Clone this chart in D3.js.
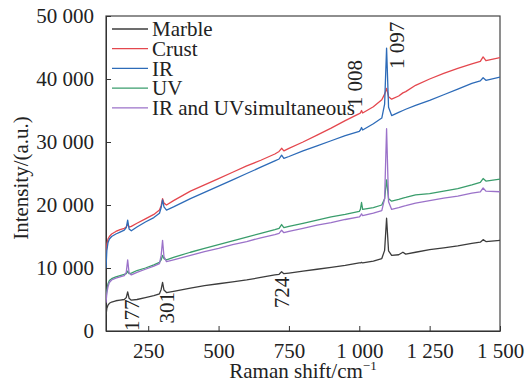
<!DOCTYPE html>
<html>
<head>
<meta charset="utf-8">
<script src="https://cdn.jsdelivr.net/npm/d3@7"></script>
<style>
html,body{margin:0;padding:0;background:#fff;}
svg{display:block;}
text{font-family:"Liberation Serif","Times New Roman",serif;fill:#222;}
</style>
</head>
<body>
<svg id="chart" width="526" height="383"></svg>
<script>
// ---- data ----
const shift = [100,103,107,112,120,135,150,165,172,177,182,190,210,240,270,290,296,301,306,315,340,400,450,500,550,600,650,700,715,724,732,750,800,850,900,950,1000,1004,1008,1012,1050,1080,1090,1097,1104,1115,1140,1155,1165,1200,1250,1300,1350,1400,1430,1440,1450,1500];

const marble = [2500,3600,4100,4400,4600,4800,4900,5000,5300,6200,5200,4900,5000,5300,5600,5900,6600,7700,6500,6100,6300,6800,7200,7500,7800,8100,8500,8900,9000,9400,9100,9200,9500,9800,10100,10400,10800,10800,10900,10800,11100,11500,12800,17900,12700,12000,12100,12500,12200,12500,12900,13200,13500,13900,14100,14500,14200,14400];
const crust  = [12000,13800,14600,15000,15400,15800,16100,16300,16500,17000,16500,16600,17100,17800,18500,19200,19900,21000,20300,20000,20700,22200,23200,24200,25200,26200,27100,28100,28500,29000,28600,29000,30000,31100,32200,33400,34500,34600,35000,34600,35600,36700,37600,38500,37200,36800,37300,37800,38000,39000,40000,40900,41700,42400,42800,43500,42900,43400];
const ir     = [10000,12800,14000,14600,15000,15400,15700,16000,16400,17600,16200,15900,16500,17300,18000,18700,19600,20800,19700,19200,19700,21000,22000,23000,24000,25000,26000,27000,27300,27900,27400,27700,28600,29400,30200,31000,31700,31900,32300,31900,32900,33800,36000,44900,35500,34200,34700,35000,35200,35800,36600,37500,38400,39300,39700,40200,39800,40300];
const uv     = [5000,6500,7500,8000,8300,8600,8800,9000,9100,9500,9100,9200,9600,10000,10500,10900,11300,12000,11500,11300,11700,12500,13100,13700,14300,14900,15500,16100,16300,16900,16400,16600,17100,17600,18100,18500,19000,19300,20400,19300,19600,20000,21000,24000,21000,20600,20900,21100,21200,21600,21800,22200,22600,23200,23600,24200,23800,24100];
const uvir   = [4500,6000,7000,7700,8100,8400,8600,8800,9300,11300,9200,8900,9300,9800,10300,10700,12000,14400,11800,11000,11300,12000,12600,13100,13700,14200,14800,15300,15500,16000,15600,15800,16300,16800,17200,17700,18100,18300,18600,18300,18700,19100,21000,32100,20500,19300,19600,19800,19900,20300,20700,21100,21400,21900,22100,22700,22200,22100];

const seriesNames = ["Marble","Crust","IR","UV","IR and UVsimultaneous"];
const seriesColors = ["#3c3c3c","#e4474e","#2d6bb8","#3a9d6c","#9b72c9"];
const seriesValues = [marble, crust, ir, uv, uvir];

const xTicks = [250,500,750,1000,1250,1500];
const yTicks = [0,10000,20000,30000,40000,50000];
const peakShifts = [177, 301, 724, 1008, 1097];
const peakTexts  = ["177", "301", "724", "1 008", "1 097"];
const peakLabelValues = [0, 1200, 3600, 35500, 41600];

// ---- layout ----
const svg = d3.select("#chart");
const m = {left:106, right:26, top:16, bottom:52};
const W = 526, H = 383;
const x = d3.scaleLinear().domain([100,1500]).range([m.left, W-m.right]);
const y = d3.scaleLinear().domain([0,50000]).range([H-m.bottom, m.top]);
const fmt = v => d3.format(",")(v).replace(/,/g," ");
const FS = 21;

// frame
svg.append("rect").attr("x",m.left).attr("y",m.top)
  .attr("width",W-m.right-m.left).attr("height",H-m.bottom-m.top)
  .attr("fill","none").attr("stroke","#444").attr("stroke-width",1.2);

// x axis
const gx = svg.append("g").attr("transform",`translate(0,${H-m.bottom})`)
  .call(d3.axisBottom(x).tickValues(xTicks).tickSizeInner(-5).tickSizeOuter(0).tickPadding(12).tickFormat(fmt));
gx.select(".domain").attr("stroke","#333");
gx.selectAll(".tick line").attr("stroke","#333");
gx.selectAll(".tick text").attr("font-size",FS).attr("font-family","Liberation Serif").attr("fill","#222");

// y axis
const gy = svg.append("g").attr("transform",`translate(${m.left},0)`)
  .call(d3.axisLeft(y).tickValues(yTicks).tickSizeInner(-5).tickSizeOuter(0).tickPadding(12).tickFormat(fmt));
gy.select(".domain").attr("stroke","#333");
gy.selectAll(".tick line").attr("stroke","#333");
gy.selectAll(".tick text").attr("font-size",FS).attr("font-family","Liberation Serif").attr("fill","#222");

// axis titles
svg.append("text").attr("x",(m.left+W-m.right)/2).attr("y",378)
  .attr("text-anchor","middle").attr("font-size",FS)
  .html('Raman shift/cm<tspan dy="-8" font-size="13">−1</tspan>');
svg.append("text").attr("transform",`translate(28,${178}) rotate(-90)`)
  .attr("text-anchor","middle").attr("font-size",FS).text("Intensity/(a.u.)");

// lines
const line = d3.line().x((d,i)=>x(shift[i])).y(d=>y(d));
svg.append("clipPath").attr("id","clip").append("rect")
  .attr("x",m.left).attr("y",m.top).attr("width",W-m.right-m.left).attr("height",H-m.bottom-m.top);
svg.append("g").attr("clip-path","url(#clip)").selectAll("path")
  .data([0,1,2,3,4]).join("path")
  .attr("d",i=>line(seriesValues[i]))
  .attr("fill","none").attr("stroke",i=>seriesColors[i]).attr("stroke-width",1.3)
  .attr("stroke-linejoin","round");

// legend
const lg = svg.append("g");
seriesNames.forEach((n,i)=>{
  const cy = 29 + i*19.7;
  lg.append("line").attr("x1",112).attr("x2",148).attr("y1",cy).attr("y2",cy)
    .attr("stroke",seriesColors[i]).attr("stroke-width",1.3);
  lg.append("text").attr("x",152).attr("y",cy).attr("dy","0.35em")
    .attr("font-size",FS).text(n);
});

// peak labels (rotated)
const labelDx = [4, 4, 0, -7, 10];
peakShifts.forEach((s,i)=>{
  svg.append("text")
    .attr("transform",`translate(${x(s)+labelDx[i]},${y(peakLabelValues[i])}) rotate(-90)`)
    .attr("text-anchor","start").attr("dy","0.35em")
    .attr("font-size",FS).text(peakTexts[i]);
});
</script>
</body>
</html>
